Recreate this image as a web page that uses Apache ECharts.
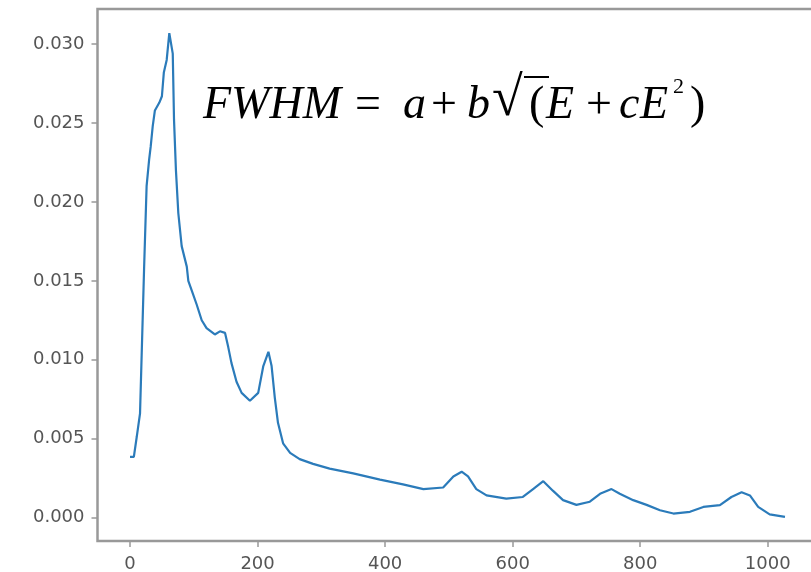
<!DOCTYPE html>
<html>
<head>
<meta charset="utf-8">
<script src="https://cdn.jsdelivr.net/npm/echarts@6/dist/echarts.min.js"></script>
<style>
html,body{margin:0;padding:0;background:#fff;}
#chart{width:811px;height:572px;}
</style>
</head>
<body>
<div id="chart"></div>
<script>
// Energy (x) values of the curve
var energy = [0, 6, 10.5, 15.7, 22, 26, 30, 32.4, 35.6, 39, 46, 50, 53, 57.5, 61.6, 67, 69, 72, 75.7, 81, 89, 91.4, 96.7, 104.5, 112.4, 120, 133, 141, 149, 154, 159, 167, 175, 188, 201, 209, 217, 222, 227, 232, 240, 251, 266, 287, 313, 350, 392, 428, 460, 491, 507, 520, 530, 543, 559, 590, 616, 632, 648, 663, 679, 700, 721, 737, 755, 768, 789, 810, 831, 852, 878, 899, 925, 943, 959, 972, 985, 1003, 1027];
// FWHM (y) values of the curve
var fwhm = [0.00384, 0.00384, 0.0051, 0.0066, 0.0157, 0.0210, 0.0227, 0.0235, 0.0248, 0.0258, 0.0263, 0.0267, 0.0282, 0.0290, 0.0307, 0.0294, 0.0252, 0.0220, 0.0193, 0.0172, 0.0159, 0.0150, 0.0144, 0.0135, 0.0125, 0.0120, 0.0116, 0.0118, 0.0117, 0.0108, 0.0098, 0.0086, 0.0079, 0.0074, 0.0079, 0.0096, 0.0105, 0.0096, 0.0076, 0.0060, 0.0047, 0.0041, 0.0037, 0.0034, 0.0031, 0.0028, 0.0024, 0.0021, 0.0018, 0.0019, 0.0026, 0.0029, 0.0026, 0.0018, 0.0014, 0.0012, 0.0013, 0.0018, 0.0023, 0.0017, 0.0011, 0.0008, 0.0010, 0.0015, 0.0018, 0.0015, 0.0011, 0.0008, 0.00046, 0.00025, 0.00036, 0.00067, 0.00078, 0.0013, 0.0016, 0.0014, 0.00067, 0.0002, 0.00004];
// Tick labels
var xTicks = [0, 200, 400, 600, 800, 1000];
var yTicks = [0, 0.005, 0.010, 0.015, 0.020, 0.025, 0.030];

var points = energy.map(function (e, i) { return [e, fwhm[i]]; });

var chart = echarts.init(document.getElementById('chart'), null, {renderer: 'canvas'});
var labelFont = {color: '#555', fontFamily: 'DejaVu Sans', fontSize: 18};
var formulaFont = 'Liberation Serif';
function part(txt, x, size, y, italic) {
  return {
    type: 'text', left: x, top: y, z: 10,
    style: {
      text: txt, x: 0, y: 0, fill: '#000',
      font: (italic ? 'italic ' : '') + size + 'px "' + formulaFont + '"',
      verticalAlign: 'top'
    }
  };
}
var fy = 83;
chart.setOption({
  animation: false,
  backgroundColor: '#fff',
  grid: {left: 97.5, top: 9, width: 720, height: 532, outerBoundsMode: 'none', containLabel: false, show: true, borderColor: '#999', borderWidth: 2.5, backgroundColor: 'transparent'},
  xAxis: {
    type: 'value', min: -51, max: 1078,
    axisLine: {show: false, onZero: false},
    splitLine: {show: false},
    axisTick: {show: true, length: 6, lineStyle: {color: '#999', width: 1.5}, customValues: xTicks},
    axisLabel: Object.assign({margin: 14, customValues: xTicks, formatter: function (v) { return String(v); }}, labelFont)
  },
  yAxis: {
    type: 'value', min: -0.00149, max: 0.03223,
    axisLine: {show: false, onZero: false},
    splitLine: {show: false},
    axisTick: {show: true, length: 6, lineStyle: {color: '#999', width: 1.5}, customValues: yTicks},
    axisLabel: Object.assign({margin: 13, customValues: yTicks, formatter: function (v) { return v.toFixed(3); }}, labelFont)
  },
  series: [{
    type: 'line', data: points, symbol: 'none', smooth: false,
    lineStyle: {color: '#2b7bba', width: 2.2}
  }],
  graphic: [
    part('FWHM', 203, 46, fy, true),
    part('=', 355, 46, fy, false),
    part('a', 403, 46, fy, true),
    part('+', 431, 46, fy, false),
    part('b', 467, 46, fy, true),
    part('\u221A', 492, 56, 72, false),
    {type: 'line', z: 10, shape: {x1: 524, y1: 77, x2: 549, y2: 77}, style: {stroke: '#000', lineWidth: 2}},
    part('(', 529, 46, fy, false),
    part('E', 546, 46, fy, true),
    part('+', 586, 46, fy, false),
    part('c', 619, 46, fy, true),
    part('E', 640, 46, fy, true),
    part('2', 673, 22, 76, false),
    part(')', 690, 46, fy, false)
  ]
});
</script>
</body>
</html>
